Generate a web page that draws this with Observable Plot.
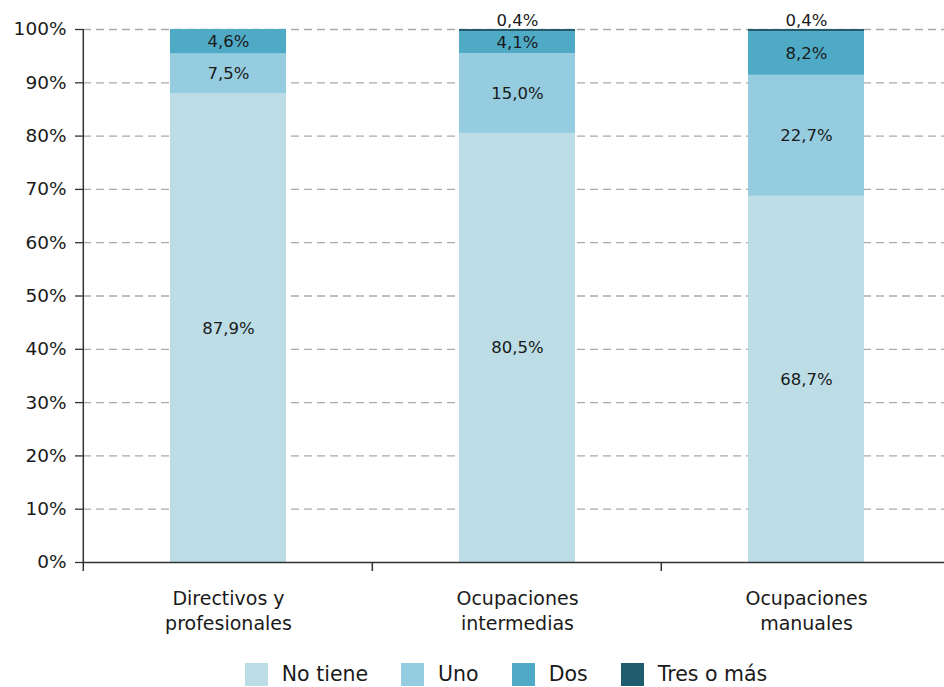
<!DOCTYPE html>
<html><head><meta charset="utf-8">
<script src="https://cdn.jsdelivr.net/npm/d3@7"></script>
<script src="https://cdn.jsdelivr.net/npm/@observablehq/plot@0.6"></script>
<style>
body{margin:0;background:#fff;font-family:"DejaVu Sans",sans-serif;color:#1a1a1a;}
#legend{display:flex;justify-content:center;align-items:center;font-size:20.5px;height:24px;line-height:24px;padding-left:68px;}
#legend .item{display:flex;align-items:center;margin-right:33px;}
#legend .item:last-child{margin-right:0;}
#legend .sw{width:23px;height:23px;margin-right:14px;}
</style>
</head><body>
<div id="chart"></div>
<div id="legend"></div>
<script>
const categories = ["Directivos y\nprofesionales", "Ocupaciones\nintermedias", "Ocupaciones\nmanuales"];
const seriesNames = ["No tiene", "Uno", "Dos", "Tres o más"];
const noTiene = [87.9, 80.5, 68.7];
const uno = [7.5, 15.0, 22.7];
const dos = [4.6, 4.1, 8.2];
const tresOMas = [0, 0.4, 0.4];
const colors = ["#bcdde6", "#96ccdf", "#4faac6", "#1f5c6e"];
const yTicks = [0, 10, 20, 30, 40, 50, 60, 70, 80, 90, 100];

const seriesValues = [noTiene, uno, dos, tresOMas];
const rows = [];
categories.forEach((c, i) => {
  let cum = 0;
  seriesValues.forEach((vals, s) => {
    const v = vals[i];
    rows.push({cat: c, series: seriesNames[s], value: v, y1: cum, y2: cum + v, mid: cum + v / 2});
    cum += v;
  });
});
const fmt = v => v.toFixed(1).replace(".", ",") + "%";
const inside = rows.filter(d => d.value >= 1);
const small = rows.filter(d => d.value > 0 && d.value < 1);

const W = 944, H = 662;
const pInner = 0.6, pOuter = 0.3;
const FONT = "'DejaVu Sans', sans-serif";

const plot = Plot.plot({
  width: W, height: H,
  marginLeft: 83, marginRight: 0, marginTop: 29, marginBottom: H - 562,
  style: {fontFamily: FONT, fontSize: "18px", color: "#1a1a1a", background: "#fff"},
  x: {domain: categories, range: [83, 950], paddingInner: pInner, paddingOuter: pOuter, axis: null},
  y: {domain: [0, 100], axis: null},
  color: {domain: seriesNames, range: colors},
  marks: [
    Plot.ruleY(yTicks.filter(d => d > 0), {stroke: "#aaaaaa", strokeWidth: 1.3, strokeDasharray: "8,5"}),
    Plot.barY(rows, {x: "cat", y1: "y1", y2: "y2", fill: "series"}),
    Plot.text(inside, {x: "cat", y: "mid", text: d => fmt(d.value), fontSize: 16.5, fill: "#1a1a1a"}),
    Plot.text(small, {x: "cat", y: d => d.y2, text: d => fmt(d.value), fontSize: 16.5, dy: -9, fill: "#1a1a1a"}),
    Plot.axisY({ticks: yTicks, tickFormat: d => d + "%", tickSize: 8, tickPadding: 9, fontSize: 18.5, stroke: "#333", strokeWidth: 1.3, fill: "#1a1a1a"}),
    Plot.ruleY([0], {stroke: "#333", strokeWidth: 1.5}),
    Plot.text(categories, {x: d => d, y: 0, text: d => d, dy: 25, lineAnchor: "top", lineHeight: 1.3, fontSize: 19, fill: "#1a1a1a"}),
    (index, scales) => {
      const g = d3.create("svg:g").attr("stroke", "#333").attr("stroke-width", 1.5);
      const x = scales.x, y = scales.y;
      const step = x(categories[1]) - x(categories[0]);
      categories.forEach(c => {
        const bx = x(c) - pOuter * step;
        g.append("line").attr("x1", bx).attr("x2", bx).attr("y1", y(0)).attr("y2", y(0) + 9);
      });
      const x0 = x(categories[0]) - pOuter * step;
      g.append("line").attr("x1", x0).attr("x2", x0).attr("y1", y(100)).attr("y2", y(0));
      return g.node();
    }
  ]
});
document.getElementById("chart").appendChild(plot);

const legend = document.getElementById("legend");
seriesNames.forEach((n, i) => {
  const it = document.createElement("div");
  it.className = "item";
  it.innerHTML = `<div class="sw" style="background:${colors[i]}"></div><span>${n}</span>`;
  legend.appendChild(it);
});
</script>
</body></html>
